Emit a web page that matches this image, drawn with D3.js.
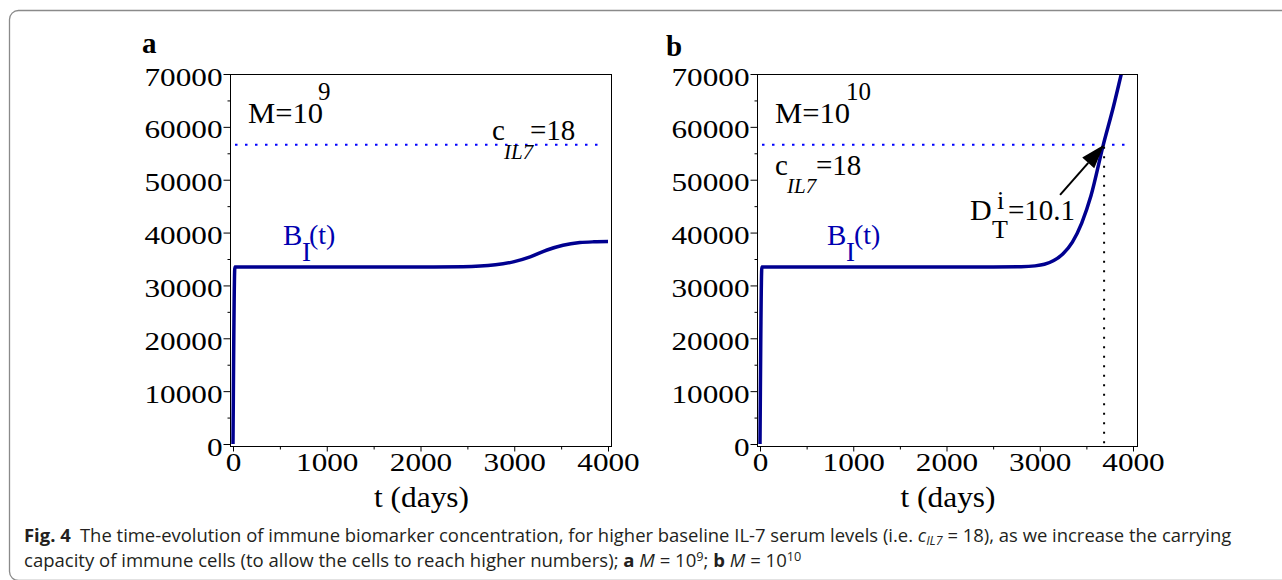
<!DOCTYPE html>
<html>
<head>
<meta charset="utf-8">
<script src="https://cdn.jsdelivr.net/npm/d3@7"></script>
<style>
body { margin: 0; background: #fff; }
svg text { font-family: "Liberation Serif", "Times New Roman", serif; }
.cap text { font-family: "Open Sans", "Noto Sans", sans-serif; fill: #231f20; }
</style>
</head>
<body>
<svg id="fig" width="1282" height="580"></svg>
<script>
// tick values
var timeTicks = [0, 1000, 2000, 3000, 4000];
var timeMinor = [500, 1500, 2500, 3500];
var valueTicks = [0, 10000, 20000, 30000, 40000, 50000, 60000, 70000];
var valueMinor = [5000, 15000, 25000, 35000, 45000, 55000, 65000];

// B_I(t), panel a (M = 10^9)
var timeA = [0, 20, 500, 1000, 1500, 2000, 2450, 2800, 3000, 3170, 3350, 3520, 3700, 3850, 4000];
var bioA  = [0, 33500, 33500, 33500, 33500, 33500, 33550, 33900, 34500, 35400, 36700, 37600, 38100, 38250, 38300];

// B_I(t), panel b (M = 10^10)
var timeB = [0, 20, 500, 1000, 2000, 2500, 2800, 2950, 3050, 3150, 3250, 3350, 3450, 3550, 3680, 3790, 3880, 3950];
var bioB  = [0, 33500, 33500, 33500, 33500, 33500, 33550, 33700, 34000, 34700, 36000, 38200, 41800, 47000, 56500, 63800, 70400, 75500];

var cIL7Level = 56600;   // dotted threshold
var doublingDay = 3690;  // D_T^i = 10.1 (years)

var svg = d3.select("#fig");
var blue = "#000090";

// outer rounded border
svg.append("rect")
  .attr("x", 9.5).attr("y", 10.5)
  .attr("width", 1320).attr("height", 570)
  .attr("rx", 9)
  .attr("fill", "none")
  .attr("stroke", "#8a8a8a")
  .attr("stroke-width", 1.3);

function addText(g, s, x, y, size, opts) {
  opts = opts || {};
  var t = g.append("text")
    .attr("x", x).attr("y", y)
    .attr("font-size", size)
    .attr("fill", opts.fill || "#000")
    .text(s);
  if (opts.italic) t.attr("font-style", "italic");
  if (opts.bold) t.attr("font-weight", "bold");
  if (opts.anchor) t.attr("text-anchor", opts.anchor);
  if (opts.width) t.attr("textLength", opts.width).attr("lengthAdjust", "spacingAndGlyphs");
  return t;
}

function drawPanel(p, times, values) {
  var g = svg.append("g");
  var x = d3.scaleLinear().domain([0, 4000]).range([p.x0, p.x1]);
  var y = d3.scaleLinear().domain([0, 70000]).range([444, 74]);

  var clipId = "clip" + p.name;
  svg.append("clipPath").attr("id", clipId)
    .append("rect")
    .attr("x", p.left).attr("y", 74)
    .attr("width", p.right - p.left).attr("height", 446 - 74);

  // threshold line
  g.append("line")
    .attr("x1", x(0) + 2).attr("x2", x(4000) - 4)
    .attr("y1", y(cIL7Level)).attr("y2", y(cIL7Level))
    .attr("stroke", "#0000ff")
    .attr("stroke-width", 2)
    .attr("stroke-dasharray", "2.5,7.5");

  // curve
  var pts = times.map(function(t, i) { return [t, values[i]]; });
  var line = d3.line()
    .x(function(d) { return x(d[0]); })
    .y(function(d) { return y(d[1]); })
    .curve(d3.curveMonotoneX);
  g.append("path")
    .datum(pts)
    .attr("clip-path", "url(#" + clipId + ")")
    .attr("d", line)
    .attr("fill", "none")
    .attr("stroke", blue)
    .attr("stroke-width", 3.5)
    .attr("stroke-linejoin", "round");

  // frame
  g.append("rect")
    .attr("x", p.left + 0.5).attr("y", 74.5)
    .attr("width", p.right - p.left).attr("height", 446 - 74)
    .attr("fill", "none")
    .attr("stroke", "#000")
    .attr("stroke-width", 1);

  // y axis
  var yAxis = g.append("g")
    .attr("transform", "translate(" + (p.left + 0.5) + ",0)")
    .call(d3.axisLeft(y).tickValues(valueTicks).tickSize(7).tickFormat(d3.format("d")));
  yAxis.select(".domain").remove();
  yAxis.selectAll("text")
    .attr("x", -8)
    .attr("dy", 11)
    .attr("font-size", 26)
    .attr("font-family", null)
    .attr("fill", "#000")
    .attr("textLength", function(d) { return String(d).length * 15.6; })
    .attr("lengthAdjust", "spacingAndGlyphs");
  var yMin = g.append("g")
    .attr("transform", "translate(" + (p.left + 0.5) + ",0)")
    .call(d3.axisLeft(y).tickValues(valueMinor).tickSize(3).tickFormat(""));
  yMin.select(".domain").remove();

  // x axis
  var xAxis = g.append("g")
    .attr("transform", "translate(0," + 446.5 + ")")
    .call(d3.axisBottom(x).tickValues(timeTicks).tickSize(5).tickFormat(d3.format("d")));
  xAxis.select(".domain").remove();
  xAxis.selectAll("text")
    .attr("y", 24)
    .attr("dy", 0)
    .attr("font-size", 26)
    .attr("font-family", null)
    .attr("fill", "#000")
    .attr("textLength", function(d) { return String(d).length * 15.6; })
    .attr("lengthAdjust", "spacingAndGlyphs");
  var xMin = g.append("g")
    .attr("transform", "translate(0," + 446.5 + ")")
    .call(d3.axisBottom(x).tickValues(timeMinor).tickSize(3).tickFormat(""));
  xMin.select(".domain").remove();

  // axis title and panel letter
  addText(g, "t (days)", (p.left + p.right) / 2 + 1, 507, 30, {anchor: "middle", width: 95});
  addText(g, p.name, p.letterX, p.letterY, 29, {bold: true});

  return {g: g, x: x, y: y};
}

// panel a
var pa = drawPanel({name: "a", left: 230, right: 611, x0: 233, x1: 608, letterX: 142, letterY: 53}, timeA, bioA);
addText(pa.g, "M=10", 248, 122.7, 29, {width: 75});
addText(pa.g, "9", 318, 100, 25);
addText(pa.g, "c", 492, 140, 29);
addText(pa.g, "IL7", 504, 159, 21, {italic: true});
addText(pa.g, "=18", 530, 140, 29);
addText(pa.g, "B", 283, 245, 29, {fill: "#0000b0"});
addText(pa.g, "I", 302, 261, 27, {fill: "#0000b0"});
addText(pa.g, "(t)", 309, 244, 28, {fill: "#0000b0"});

// panel b
var pb = drawPanel({name: "b", left: 757, right: 1137, x0: 760, x1: 1133, letterX: 666, letterY: 56}, timeB, bioB);
addText(pb.g, "M=10", 775, 122.7, 29, {width: 75});
addText(pb.g, "10", 846, 100, 25);
addText(pb.g, "c", 775, 175, 29);
addText(pb.g, "IL7", 787, 193, 21, {italic: true});
addText(pb.g, "=18", 816, 175, 29);
addText(pb.g, "B", 827, 245, 29, {fill: "#0000b0"});
addText(pb.g, "I", 846, 261, 27, {fill: "#0000b0"});
addText(pb.g, "(t)", 854, 244, 28, {fill: "#0000b0"});
addText(pb.g, "D", 970, 220, 30);
addText(pb.g, "i", 997, 209, 26);
addText(pb.g, "T", 992, 238, 26);
addText(pb.g, "=10.1", 1008, 220, 29);

// doubling time marker: dotted drop line and arrow
var tipX = pb.x(doublingDay), tipY = pb.y(cIL7Level);
pb.g.append("line")
  .attr("x1", tipX).attr("x2", tipX)
  .attr("y1", tipY + 2).attr("y2", 446)
  .attr("stroke", "#000")
  .attr("stroke-width", 2)
  .attr("stroke-dasharray", "2,7.5");
var tailX = tipX - 44, tailY = tipY + 50;
var ang = Math.atan2(tipY - tailY, tipX - tailX);
var hl = 24, hw = 8;
var bx = tipX - hl * Math.cos(ang), by = tipY - hl * Math.sin(ang);
pb.g.append("line")
  .attr("x1", tailX).attr("y1", tailY)
  .attr("x2", bx).attr("y2", by)
  .attr("stroke", "#000").attr("stroke-width", 2);
pb.g.append("path")
  .attr("d", "M" + tipX + "," + tipY +
    "L" + (bx + hw * Math.sin(ang)) + "," + (by - hw * Math.cos(ang)) +
    "L" + (bx - hw * Math.sin(ang)) + "," + (by + hw * Math.cos(ang)) + "Z")
  .attr("fill", "#000");

// caption
var cap = svg.append("g").attr("class", "cap");
function capLine(y, x0, width, build) {
  var t = cap.append("text").attr("x", 0).attr("y", 0).attr("font-size", 17.5);
  build(t);
  var w = t.node().getComputedTextLength();
  t.attr("transform", "translate(" + x0 + "," + y + ") scale(" + (width / w) + ",1)");
}
capLine(542, 24, 1208, function(t) {
  t.append("tspan").attr("font-weight", "bold").text("Fig. 4");
  t.append("tspan").text("\u2002The time-evolution of immune biomarker concentration, for higher baseline IL-7 serum levels (i.e. ");
  t.append("tspan").attr("font-style", "italic").text("c");
  t.append("tspan").attr("font-style", "italic").attr("font-size", 12).attr("dy", 3).text("IL7");
  t.append("tspan").attr("dy", -3).text(" = 18), as we increase the carrying");
});
capLine(567, 24, 778, function(t) {
  t.append("tspan").text("capacity of immune cells (to allow the cells to reach higher numbers); ");
  t.append("tspan").attr("font-weight", "bold").text("a");
  t.append("tspan").attr("font-style", "italic").text(" M");
  t.append("tspan").text(" = 10");
  t.append("tspan").attr("font-size", 12).attr("dy", -6).text("9");
  t.append("tspan").attr("dy", 6).text("; ");
  t.append("tspan").attr("font-weight", "bold").text("b");
  t.append("tspan").attr("font-style", "italic").text(" M");
  t.append("tspan").text(" = 10");
  t.append("tspan").attr("font-size", 12).attr("dy", -6).text("10");
});
</script>
</body>
</html>
